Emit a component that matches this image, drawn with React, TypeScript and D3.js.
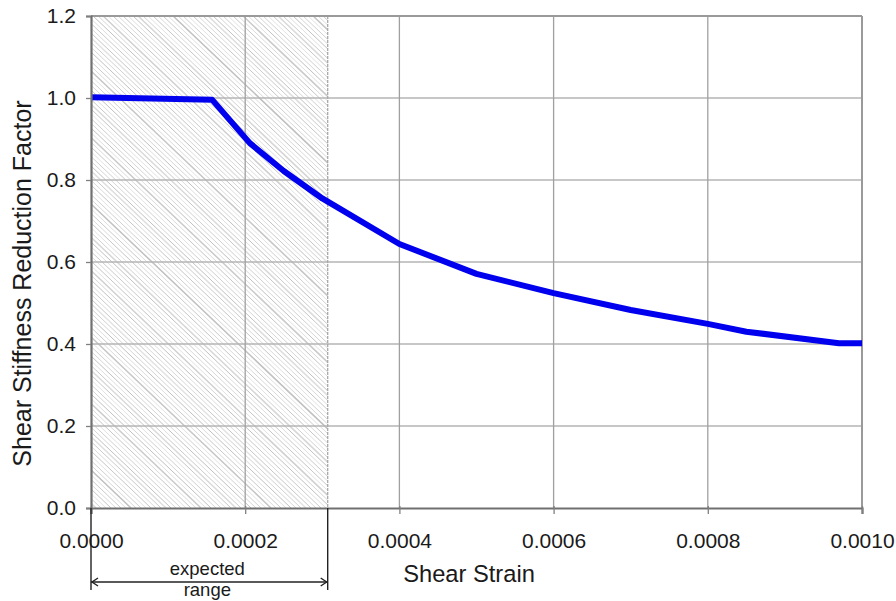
import React, { useEffect, useRef } from "react";
import * as d3 from "d3";

// curve
const strain = [0, 0.000157, 0.000206, 0.00025, 0.0003, 0.0004, 0.0005, 0.0006, 0.0007, 0.0008, 0.00085, 0.00097, 0.001];
const factor = [1.002, 0.996, 0.89, 0.822, 0.755, 0.644, 0.571, 0.524, 0.483, 0.449, 0.43, 0.402, 0.402];
const xTicks = [0, 0.0002, 0.0004, 0.0006, 0.0008, 0.001];
const yTicks = [0, 0.2, 0.4, 0.6, 0.8, 1.0, 1.2];
const expectedRange = [0, 0.000307];

const App = () => {
  const ref = useRef<SVGSVGElement>(null);

  useEffect(() => {
    const width = 896;
    const height = 601;
    const margin = { top: 16, right: 34, bottom: 93, left: 91 };
    const innerWidth = width - margin.left - margin.right;
    const innerHeight = height - margin.top - margin.bottom;

    const svg = d3.select(ref.current);
    svg.selectAll("*").remove();
    const g = svg.append("g").attr("transform", `translate(${margin.left}, ${margin.top})`);

    const xScale = d3.scaleLinear().domain([0, 0.001]).range([0, innerWidth]);
    const yScale = d3.scaleLinear().domain([0, 1.2]).range([innerHeight, 0]);
    const font = "'Liberation Sans', Arial, sans-serif";

    // hatched "expected range" block
    const hx0 = xScale(expectedRange[0]);
    const hx1 = xScale(expectedRange[1]);
    svg.append("defs").append("clipPath").attr("id", "hatch-clip")
      .append("rect").attr("x", hx0).attr("y", 0).attr("width", hx1 - hx0).attr("height", innerHeight);
    const hatch = g.append("g").attr("clip-path", "url(#hatch-clip)");
    const slope = 0.95;
    const shades = ["#cacaca", "#dedede", "#c0c0c0", "#d6d6d6", "#d0d0d0", "#e2e2e2", "#c6c6c6", "#dadada"];
    const starts = d3.range(hx0 - innerHeight / slope - 10, hx1 + 10, 5);
    hatch.selectAll("line").data(starts).join("line")
      .attr("x1", d => d).attr("y1", 0)
      .attr("x2", d => d + innerHeight / slope).attr("y2", innerHeight)
      .attr("stroke", (d, i) => shades[i % shades.length])
      .attr("stroke-width", (d, i) => (i % 7 === 3 ? 1.5 : 1));

    // grid
    g.selectAll(".hgrid").data(yTicks.slice(1)).join("line").attr("class", "hgrid")
      .attr("x1", 0).attr("x2", innerWidth)
      .attr("y1", d => yScale(d)).attr("y2", d => yScale(d))
      .attr("stroke", "#b4b4b4").attr("stroke-width", 1.3);
    g.selectAll(".vgrid").data(xTicks.slice(1)).join("line").attr("class", "vgrid")
      .attr("y1", 0).attr("y2", innerHeight)
      .attr("x1", d => xScale(d)).attr("x2", d => xScale(d))
      .attr("stroke", "#a0a0a0").attr("stroke-width", 1.3);
    g.append("line").attr("x1", hx1).attr("x2", hx1).attr("y1", 0).attr("y2", innerHeight)
      .attr("stroke", "#a8a8a8").attr("stroke-width", 1.3).attr("stroke-dasharray", "3,1");

    // frame
    g.append("line").attr("x1", 0).attr("x2", innerWidth).attr("y1", 0).attr("y2", 0)
      .attr("stroke", "#9a9a9a").attr("stroke-width", 2);
    g.append("line").attr("x1", innerWidth).attr("x2", innerWidth).attr("y1", 0).attr("y2", innerHeight)
      .attr("stroke", "#9a9a9a").attr("stroke-width", 2);

    // curve
    const pts = strain.map((s, i) => [s, factor[i]] as [number, number]);
    const line = d3.line<[number, number]>().x(d => xScale(d[0])).y(d => yScale(d[1]));
    g.append("path").datum(pts).attr("d", line).attr("fill", "none")
      .attr("stroke", "#0000ee").attr("stroke-width", 6).attr("stroke-linejoin", "round");

    // axes
    const xAxis = d3.axisBottom(xScale).tickValues(xTicks).tickFormat(d3.format(".4f")).tickSize(6).tickPadding(19);
    const yAxis = d3.axisLeft(yScale).tickValues(yTicks).tickFormat(d3.format(".1f")).tickSize(5).tickPadding(10);
    const xa = g.append("g").attr("transform", `translate(0, ${innerHeight})`).call(xAxis);
    const ya = g.append("g").call(yAxis);
    [xa, ya].forEach(a => {
      a.select(".domain").attr("stroke", "#707070").attr("stroke-width", 2.2);
      a.selectAll(".tick line").attr("stroke", "#808080").attr("stroke-width", 1.3);
      a.selectAll(".tick text").attr("font-family", font).attr("font-size", 21).attr("fill", "#1a1a1a");
    });
    xa.selectAll(".tick line").attr("y1", -2);

    // axis titles
    g.append("text").text("Shear Strain").attr("x", 378).attr("y", 566)
      .attr("text-anchor", "middle").attr("font-family", font).attr("font-size", 23.7).attr("fill", "#1a1a1a");
    svg.append("text").text("Shear Stiffness Reduction Factor")
      .attr("transform", `translate(31, 283.5) rotate(-90)`)
      .attr("text-anchor", "middle").attr("font-family", font).attr("font-size", 25).attr("fill", "#1a1a1a");

    // expected range annotation
    const ay = 566;
    const ann = g.append("g").attr("stroke", "#222").attr("stroke-width", 1.4).attr("fill", "none");
    ann.append("line").attr("x1", hx0).attr("x2", hx0).attr("y1", innerHeight).attr("y2", 574);
    ann.append("line").attr("x1", hx1).attr("x2", hx1).attr("y1", innerHeight).attr("y2", 574);
    ann.append("line").attr("x1", hx0).attr("x2", hx1).attr("y1", ay).attr("y2", ay);
    ann.append("path").attr("d", `M${hx0 + 7},${ay - 4}L${hx0 + 1},${ay}L${hx0 + 7},${ay + 4}`);
    ann.append("path").attr("d", `M${hx1 - 7},${ay - 4}L${hx1 - 1},${ay}L${hx1 - 7},${ay + 4}`);
    g.append("text").text("expected").attr("x", (hx0 + hx1) / 2 - 2).attr("y", 559)
      .attr("text-anchor", "middle").attr("font-family", font).attr("font-size", 18.5).attr("fill", "#1a1a1a");
    g.append("text").text("range").attr("x", (hx0 + hx1) / 2 - 2).attr("y", 580)
      .attr("text-anchor", "middle").attr("font-family", font).attr("font-size", 18.5).attr("fill", "#1a1a1a");
  }, []);

  return (
    <svg ref={ref} width={896} height={601}
      style={{ position: "absolute", left: 0, top: 0, background: "#fff" }} />
  );
};

export default App;
